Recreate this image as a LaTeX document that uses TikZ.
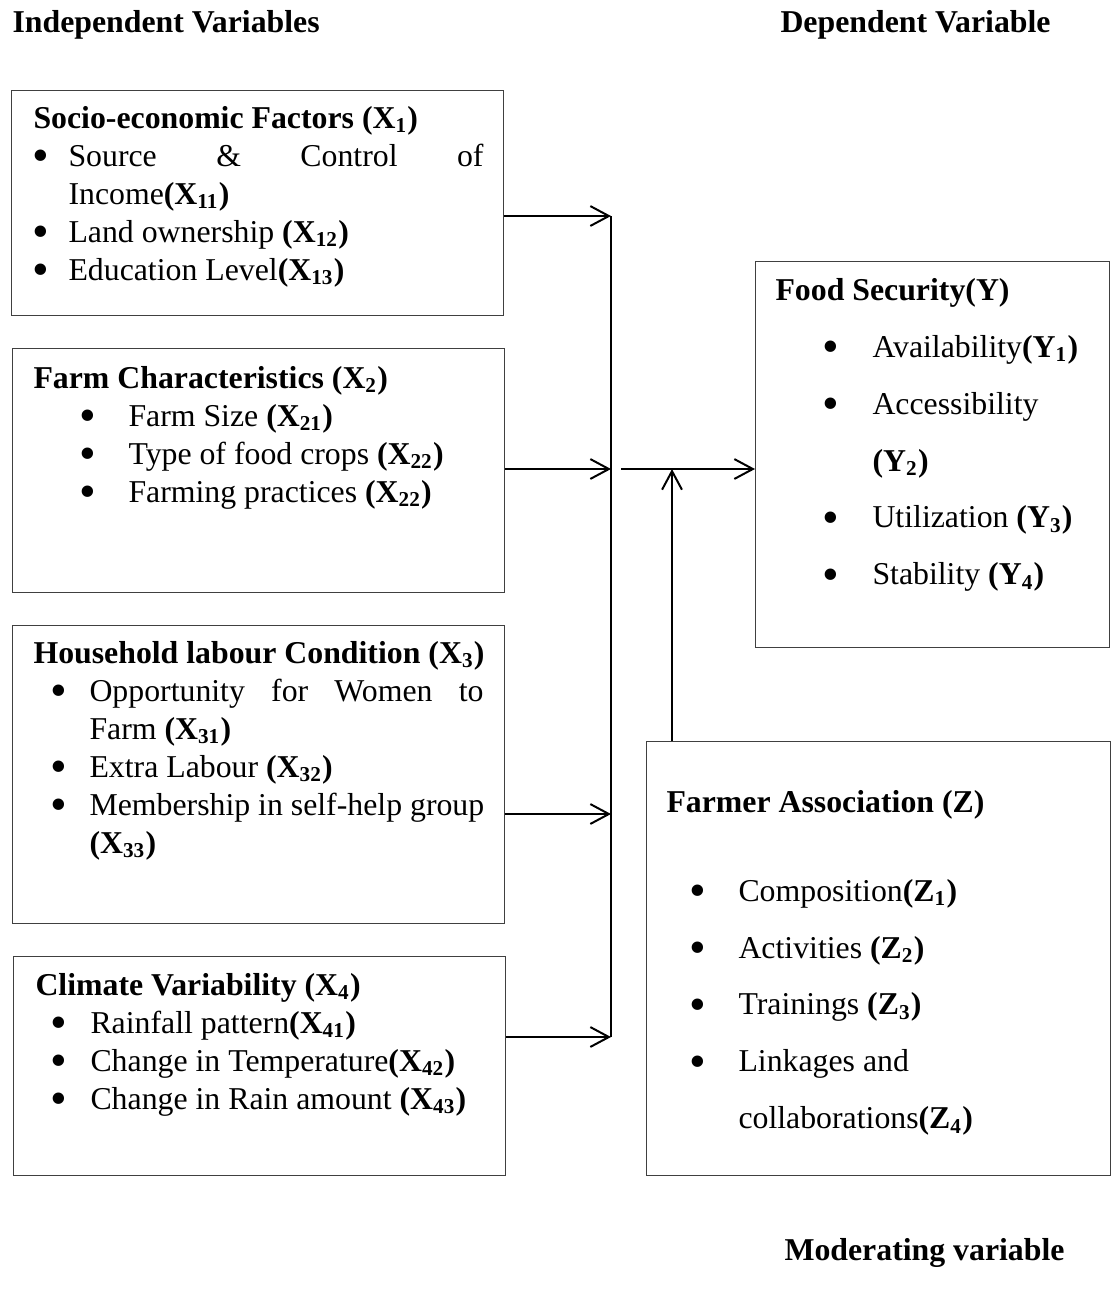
\documentclass[tikz,border=0pt]{standalone}
\usepackage{fontspec}
\setmainfont{Liberation Serif}
\usetikzlibrary{arrows.meta}

\setlength{\parindent}{0pt}
\newlength\px
\setlength\px{0.3774pt}
% bullet centred at #1, text starting #2 further on
\newcommand{\bul}[2]{\hspace*{#1}\makebox[0pt]{\raisebox{-0.16em}{\scalebox{1.5}{\textbullet}}}\hspace*{#2}}
\newcommand{\vx}[2]{\textbf{(#1\textsubscript{#2})}}

\tikzset{
    box/.style={draw=black!75, line width=0.55pt, inner sep=0pt, anchor=north west},
    txt/.style={anchor=base west, inner sep=0pt, text width=#1,
        execute at begin node={\spaceskip=0pt\xspaceskip=0pt\raggedright},
        font=\fontsize{12}{14.34}\selectfont},
    wide/.style={font=\fontsize{12}{21.51}\selectfont},
    head/.style={anchor=base west, inner sep=0pt, font=\fontsize{12}{14}\selectfont\bfseries},
    arr/.style={-{Straight Barb[length=7pt,width=7.5pt]}, line width=0.75pt},
}

\begin{document}
\begin{tikzpicture}[x=0.3774pt, y=-0.3774pt]
    \useasboundingbox (0,0) rectangle (1111,1294);

    % headings
    \node[head] (indep) at (12,32) {Independent Variables};
    \node[head] (dep) at (780,32) {Dependent Variable};
    \node[head] (moder) at (784,1260) {Moderating variable};

    % independent variables
    \node[box, minimum width=492\px, minimum height=225\px] (socio) at (11,90) {};
    \node[txt=470\px] (sociotxt) at (33,128) {%
        \textbf{Socio-economic Factors \vx{X}{1}}\\
        \bul{7\px}{28\px}\makebox[415\px][s]{Source \& Control of}\\
        \hspace*{35\px}Income\vx{X}{11}\\
        \bul{7\px}{28\px}Land ownership \vx{X}{12}\\
        \bul{7\px}{28\px}Education Level\vx{X}{13}};

    \node[box, minimum width=492\px, minimum height=244\px] (farm) at (12,348) {};
    \node[txt=470\px] (farmtxt) at (33,388) {%
        \textbf{Farm Characteristics \vx{X}{2}}\\
        \bul{54\px}{41\px}Farm Size \vx{X}{21}\\
        \bul{54\px}{41\px}Type of food crops \vx{X}{22}\\
        \bul{54\px}{41\px}Farming practices \vx{X}{22}};

    \node[box, minimum width=492\px, minimum height=298\px] (house) at (12,625) {};
    \node[txt=470\px] (housetxt) at (33,663) {%
        \textbf{Household labour Condition \vx{X}{3}}\\
        \bul{25\px}{31\px}\makebox[394\px][s]{Opportunity for Women to}\\
        \hspace*{56\px}Farm \vx{X}{31}\\
        \bul{25\px}{31\px}Extra Labour \vx{X}{32}\\
        \bul{25\px}{31\px}Membership in self-help group\\
        \hspace*{56\px}\vx{X}{33}};

    \node[box, minimum width=492\px, minimum height=219\px] (climate) at (13,956) {};
    \node[txt=470\px] (climatetxt) at (35,995) {%
        \textbf{Climate Variability \vx{X}{4}}\\
        \bul{23\px}{32\px}Rainfall pattern\vx{X}{41}\\
        \bul{23\px}{32\px}Change in Temperature\vx{X}{42}\\
        \bul{23\px}{32\px}Change in Rain amount \vx{X}{43}};

    % dependent variable
    \node[box, minimum width=354\px, minimum height=386\px] (food) at (755,261) {};
    \node[txt=330\px, wide] (foodtxt) at (775,300) {%
        \textbf{Food Security(Y)}\\
        \bul{55\px}{42\px}Availability\vx{Y}{1}\\
        \bul{55\px}{42\px}Accessibility\\
        \hspace*{97\px}\vx{Y}{2}\\
        \bul{55\px}{42\px}Utilization \vx{Y}{3}\\
        \bul{55\px}{42\px}Stability \vx{Y}{4}};

    % moderating variable
    \node[box, minimum width=464\px, minimum height=434\px] (farmer) at (646,741) {};
    \node[txt=440\px, wide] (farmertxt) at (666,812) {%
        \textbf{Farmer Association (Z)}\\[32\px]
        \bul{31\px}{41\px}Composition\vx{Z}{1}\\
        \bul{31\px}{41\px}Activities \vx{Z}{2}\\
        \bul{31\px}{41\px}Trainings \vx{Z}{3}\\
        \bul{31\px}{41\px}Linkages and\\
        \hspace*{72\px}collaborations\vx{Z}{4}};

    % collecting line
    \coordinate (j1) at (611,216);
    \coordinate (j2) at (611,469);
    \coordinate (j3) at (611,814);
    \coordinate (j4) at (611,1037);
    \coordinate (m) at (621,469);
    \coordinate (mod) at (672,469);

    \draw[line width=0.75pt] (j1) -- (j4);
    \draw[arr] (socio.east |- j1) -- (j1);
    \draw[arr] (farm.east |- j2) -- (j2);
    \draw[arr] (house.east |- j3) -- (j3);
    \draw[arr] (climate.east |- j4) -- (j4);

    \draw[arr] (m) -- (m -| food.west);
    \draw[arr] (mod |- farmer.north) -- (mod);
\end{tikzpicture}
\end{document}
